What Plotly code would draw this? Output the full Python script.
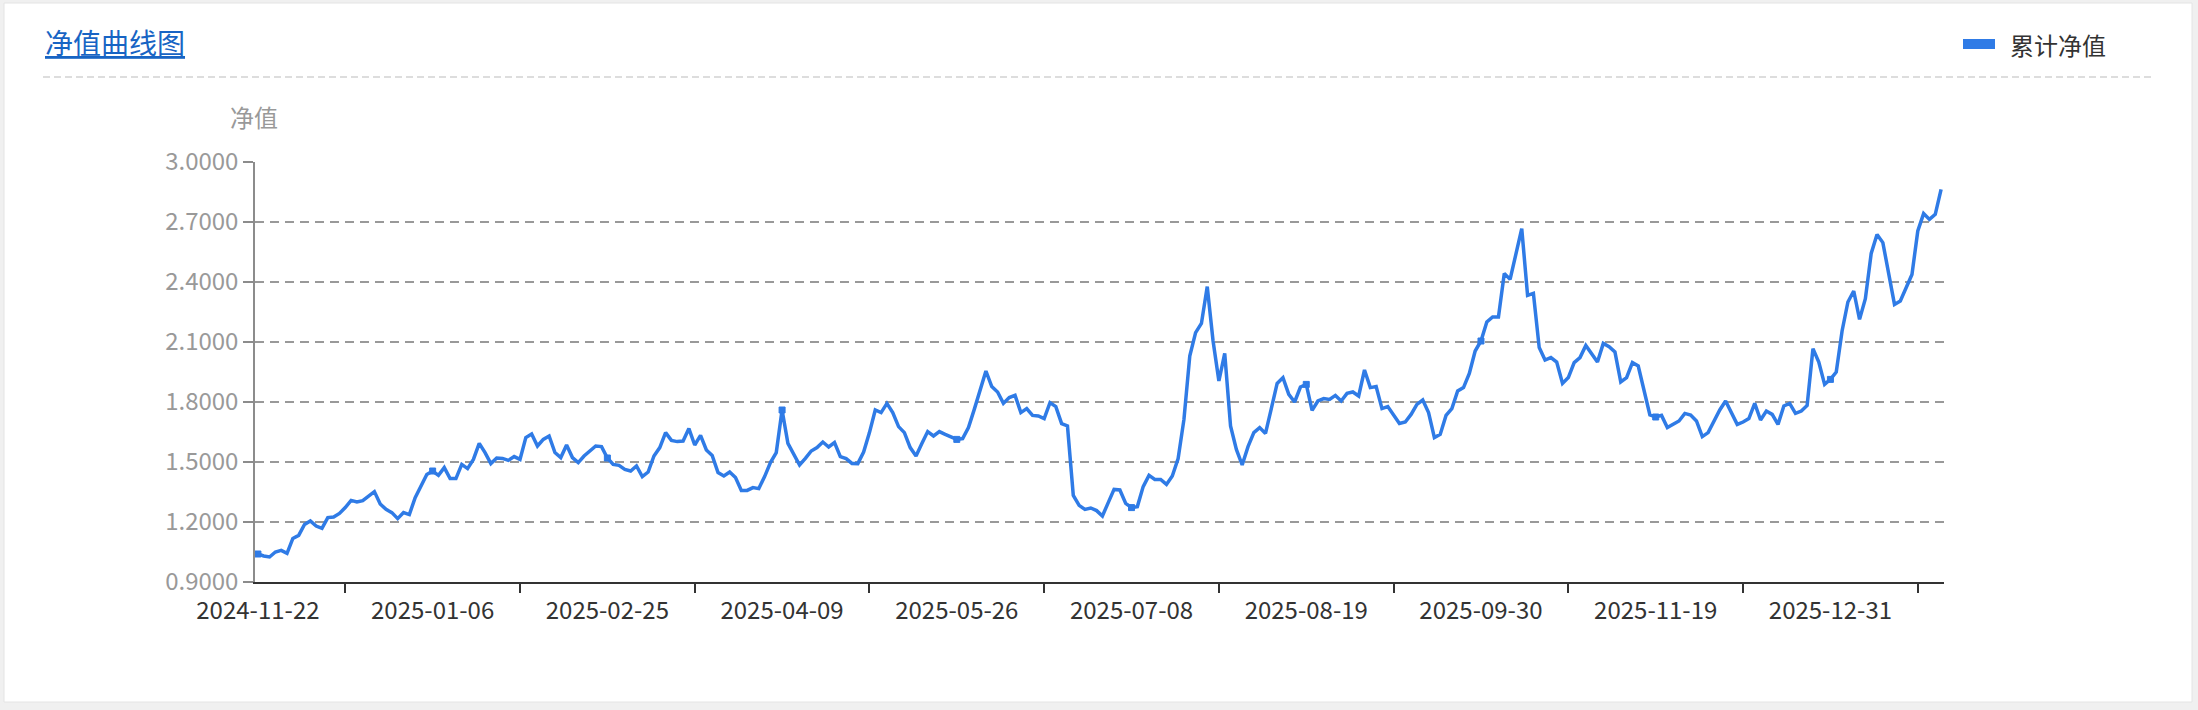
import plotly.graph_objects as go

# ---- data ----
nav = [
    1.040, 1.030, 1.025, 1.050, 1.058, 1.043, 1.118, 1.133, 1.188, 1.205,
    1.180, 1.168, 1.222, 1.225, 1.243, 1.272, 1.308, 1.300, 1.307, 1.327,
    1.352, 1.290, 1.263, 1.247, 1.217, 1.247, 1.237, 1.322, 1.380, 1.438,
    1.455, 1.433, 1.472, 1.417, 1.417, 1.488, 1.467, 1.513, 1.593, 1.547,
    1.492, 1.520, 1.518, 1.508, 1.527, 1.513, 1.622, 1.640, 1.580, 1.613,
    1.630, 1.547, 1.522, 1.585, 1.522, 1.497, 1.530, 1.558, 1.580, 1.577,
    1.520, 1.488, 1.483, 1.463, 1.455, 1.480, 1.427, 1.450, 1.530, 1.572,
    1.647, 1.608, 1.602, 1.605, 1.667, 1.585, 1.633, 1.560, 1.533, 1.447,
    1.430, 1.450, 1.422, 1.358, 1.358, 1.372, 1.367, 1.427, 1.497, 1.547,
    1.760, 1.593, 1.538, 1.485, 1.518, 1.555, 1.572, 1.600, 1.575, 1.597,
    1.527, 1.517, 1.493, 1.492, 1.550, 1.647, 1.760, 1.747, 1.793, 1.747,
    1.677, 1.647, 1.572, 1.530, 1.592, 1.652, 1.630, 1.652, 1.638, 1.627,
    1.613, 1.617, 1.672, 1.763, 1.863, 1.955, 1.877, 1.850, 1.793, 1.822,
    1.833, 1.747, 1.767, 1.733, 1.730, 1.717, 1.797, 1.777, 1.692, 1.680,
    1.333, 1.283, 1.263, 1.270, 1.257, 1.230, 1.297, 1.363, 1.360, 1.293,
    1.272, 1.277, 1.377, 1.433, 1.413, 1.413, 1.388, 1.430, 1.517, 1.713,
    2.030, 2.147, 2.193, 2.377, 2.105, 1.905, 2.043, 1.680, 1.563, 1.485,
    1.577, 1.647, 1.672, 1.643, 1.767, 1.893, 1.922, 1.838, 1.800, 1.875,
    1.888, 1.758, 1.805, 1.817, 1.813, 1.833, 1.805, 1.843, 1.850, 1.830,
    1.960, 1.872, 1.877, 1.767, 1.777, 1.738, 1.693, 1.700, 1.738, 1.788,
    1.810, 1.747, 1.622, 1.638, 1.733, 1.767, 1.855, 1.872, 1.943, 2.055,
    2.105, 2.200, 2.225, 2.225, 2.443, 2.413, 2.538, 2.667, 2.333, 2.343,
    2.072, 2.010, 2.022, 2.000, 1.893, 1.922, 1.997, 2.022, 2.083, 2.043,
    2.000, 2.093, 2.077, 2.050, 1.900, 1.922, 1.997, 1.980, 1.863, 1.735,
    1.725, 1.733, 1.672, 1.688, 1.705, 1.743, 1.735, 1.705, 1.627, 1.647,
    1.705, 1.760, 1.805, 1.747, 1.688, 1.700, 1.717, 1.793, 1.710, 1.755,
    1.738, 1.688, 1.780, 1.793, 1.743, 1.755, 1.783, 2.067, 2.000, 1.888,
    1.913, 1.950, 2.155, 2.300, 2.355, 2.213, 2.317, 2.543, 2.638, 2.597,
    2.438, 2.288, 2.305, 2.372, 2.438, 2.655, 2.742, 2.713, 2.738, 2.863,
]
tick_labels = ["2024-11-22", "2025-01-06", "2025-02-25", "2025-04-09", "2025-05-26",
               "2025-07-08", "2025-08-19", "2025-09-30", "2025-11-19", "2025-12-31"]
label_step = 30
series_name = "累计净值"
y_name = "净值"
chart_title = "净值曲线图"

# ---- layout geometry ----
W, H = 2198, 710
L, R, T, B = 255, 254, 162, 128
PW, PH = W - L - R, H - T - B

def px(x):
    return (x - L) / PW

def py(y):
    return (H - B - y) / PH

n = len(nav)
xs = list(range(n))
label_idx = [i * label_step for i in range(len(tick_labels))]
minor_idx = [i * label_step + label_step // 2 for i in range(len(tick_labels))]

BLUE = "#2f7be6"
FONT = "Noto Sans CJK SC, Noto Sans, sans-serif"

fig = go.Figure()
fig.add_trace(go.Scatter(x=xs, y=nav, mode="lines", name=series_name,
                         line=dict(color=BLUE, width=3.5), showlegend=False))
fig.add_trace(go.Scatter(x=label_idx, y=[nav[i] for i in label_idx], mode="markers",
                         marker=dict(symbol="square", size=6, color=BLUE,
                                     line=dict(color=BLUE, width=1)),
                         showlegend=False, hoverinfo="skip"))

fig.update_layout(
    width=W, height=H,
    margin=dict(l=L, r=R, t=T, b=B, pad=0),
    paper_bgcolor="#f0f0f0",
    plot_bgcolor="rgba(0,0,0,0)",
    font=dict(family=FONT),
    xaxis=dict(
        range=[-0.5, n - 0.5], showgrid=False, zeroline=False,
        showline=True, linecolor="#333333", linewidth=2,
        tickmode="array", tickvals=label_idx, ticktext=tick_labels,
        ticks="", tickfont=dict(size=24, color="#333333"),
        ticklabelstandoff=6,
        minor=dict(tickmode="array", tickvals=minor_idx, ticks="outside",
                   ticklen=9, tickwidth=2, tickcolor="#333333", showgrid=False),
    ),
    yaxis=dict(
        range=[0.9, 3.0], tick0=0.9, dtick=0.3, tickformat=".4f",
        showgrid=True, gridcolor="#999999", gridwidth=1.5, griddash="9px,6px",
        zeroline=False, showline=True, linecolor="#8c8c8c", linewidth=1.5,
        ticks="outside", ticklen=10, tickwidth=1.5, tickcolor="#8c8c8c",
        tickfont=dict(size=24, color="#999999"),
    ),
    shapes=[
        dict(type="rect", xref="paper", yref="paper", layer="below",
             x0=px(4), x1=px(2192), y0=py(3), y1=py(702),
             fillcolor="white", line=dict(color="#e4e4e4", width=1)),
        dict(type="line", xref="paper", yref="paper",
             x0=px(43), x1=px(2155), y0=py(77), y1=py(77),
             line=dict(color="#dddddd", width=2, dash="7px,4px")),
        dict(type="rect", xref="paper", yref="paper",
             x0=px(1963), x1=px(1995), y0=py(39), y1=py(49),
             fillcolor=BLUE, line=dict(width=0)),
    ],
    annotations=[
        dict(text="<u>" + chart_title + "</u>", xref="paper", yref="paper",
             x=px(43), y=py(42), xanchor="left", yanchor="middle", showarrow=False,
             font=dict(size=28, color="#1764c4", family=FONT)),
        dict(text=y_name, xref="paper", yref="paper",
             x=px(254), y=py(117), xanchor="center", yanchor="middle", showarrow=False,
             font=dict(size=24, color="#999999", family=FONT)),
        dict(text=series_name, xref="paper", yref="paper",
             x=px(2008), y=py(44), xanchor="left", yanchor="middle", showarrow=False,
             font=dict(size=24, color="#333333", family=FONT)),
    ],
)

fig.write_html("out.html",
               config={"displayModeBar": False},
               post_script="document.body.style.margin='0';document.body.style.padding='0';")
